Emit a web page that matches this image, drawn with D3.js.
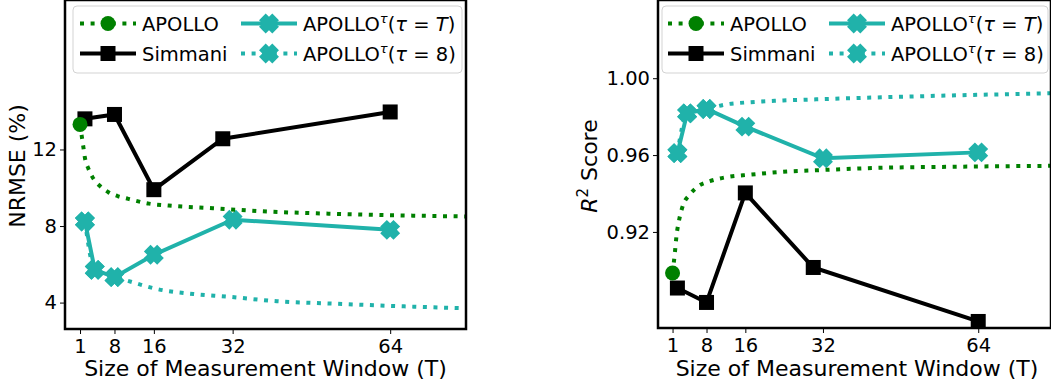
<!DOCTYPE html>
<html>
<head>
<meta charset="utf-8">
<script src="https://cdn.jsdelivr.net/npm/d3@7"></script>
<style>
  body { margin: 0; background: white; }
  svg { display: block; font-family: "DejaVu Sans", sans-serif; }
</style>
</head>
<body>
<svg id="chart" width="1051" height="383"></svg>
<script>
// Tick labels
const xTicks = [1, 8, 16, 32, 64];
const nrmseTicks = [4, 8, 12];
const r2Ticks = [0.92, 0.96, 1.00];

// Left panel: NRMSE (%)
const simmaniT = [2, 8, 16, 30, 64];
const simmaniNrmse = [13.6, 13.83, 9.9, 12.56, 13.96];
const tauT = [2, 4, 8, 16, 32, 64];
const tauNrmse = [8.24, 5.71, 5.33, 6.5, 8.33, 7.8];
const apolloT = [1, 1.35, 1.7, 2, 2.7, 3.5, 5.1, 6.75, 8.8, 10.8, 15, 19, 28, 38, 51, 65, 79.5];
const apolloNrmse = [13.31, 12.7, 12.09, 11.56, 11.0, 10.57, 10.08, 9.77, 9.55, 9.42, 9.17, 9.07, 8.93, 8.77, 8.65, 8.56, 8.5];
const tau8T = [2, 4, 8, 10.5, 16.6, 24, 31, 41, 51, 65, 79.5];
const tau8Nrmse = [8.24, 5.71, 5.33, 5.15, 4.71, 4.45, 4.31, 4.07, 3.96, 3.82, 3.70];

// Right panel: R^2 score
const simmaniR2 = [0.8908, 0.8833, 0.9403, 0.9015, 0.8734];
const tauR2 = [0.961, 0.9817, 0.984, 0.9748, 0.9583, 0.9614];
const apolloTR = [1, 1.47, 1.8, 2.37, 3.2, 4.57, 6.3, 8.7, 12.1, 17, 23.8, 30.7, 44.4, 58.2, 79.5];
const apolloR2 = [0.8986, 0.909, 0.9177, 0.9264, 0.9342, 0.9395, 0.9438, 0.9464, 0.9485, 0.9498, 0.9513, 0.9521, 0.9534, 0.9539, 0.9544];
const tau8TR = [2, 4, 8, 12.1, 17, 23.8, 30.7, 44.4, 58.2, 79.5];
const tau8R2 = [0.961, 0.9817, 0.984, 0.9864, 0.9875, 0.9884, 0.9890, 0.9901, 0.9910, 0.9922];

const GREEN = "#008000", TEAL = "#20b2aa", BLACK = "#000000";

const svg = d3.select("#chart");

// filled "X" marker (plus rotated 45 degrees)
function xMarker(u) {
    const pts = [[-1,-2],[-1,-1],[-2,-1],[-2,1],[-1,1],[-1,2],[1,2],[1,1],[2,1],[2,-1],[1,-1],[1,-2]];
    const c = Math.SQRT1_2;
    return "M" + pts.map(([a, b]) => [(a - b) * c * u, (a + b) * c * u].join(",")).join("L") + "Z";
}
const X_PATH = xMarker(4.7);

function drawMarker(g, kind, color, cx, cy) {
    if (kind === "circle") {
        g.append("circle").attr("cx", cx).attr("cy", cy).attr("r", 7.5).attr("fill", color);
    } else if (kind === "square") {
        g.append("rect").attr("x", cx - 7.5).attr("y", cy - 7.5).attr("width", 15).attr("height", 15).attr("fill", color);
    } else {
        g.append("path").attr("d", X_PATH).attr("transform", `translate(${cx},${cy})`).attr("fill", color);
    }
}

function panel(opts) {
    const x = d3.scaleLinear().domain(opts.xDomain).range(opts.xRange);
    const y = d3.scaleLinear().domain(opts.yDomain).range(opts.yRange);
    const g = svg.append("g");

    const clipId = "clip" + opts.id;
    svg.append("clipPath").attr("id", clipId)
        .append("rect")
        .attr("x", opts.xRange[0]).attr("y", opts.yRange[1])
        .attr("width", opts.xRange[1] - opts.xRange[0])
        .attr("height", opts.yRange[0] - opts.yRange[1]);

    const plot = g.append("g").attr("clip-path", `url(#${clipId})`);

    const line = d3.line().x(d => x(d[0])).y(d => y(d[1]));
    const smooth = d3.line().x(d => x(d[0])).y(d => y(d[1])).curve(d3.curveMonotoneX);

    // APOLLO tau=8 (dotted teal)
    const t8 = opts.tau8T.map((t, i) => [t, opts.tau8V[i]]);
    plot.append("path").attr("d", smooth(t8)).attr("fill", "none")
        .attr("stroke", TEAL).attr("stroke-width", 4).attr("stroke-dasharray", "4,6.6");
    t8.slice(0, 3).forEach(d => drawMarker(plot, "x", TEAL, x(d[0]), y(d[1])));

    // APOLLO tau=T (solid teal)
    const tt = opts.tauT.map((t, i) => [t, opts.tauV[i]]);
    plot.append("path").attr("d", line(tt)).attr("fill", "none")
        .attr("stroke", TEAL).attr("stroke-width", 4);
    tt.forEach(d => drawMarker(plot, "x", TEAL, x(d[0]), y(d[1])));

    // Simmani
    const sm = opts.simT.map((t, i) => [t, opts.simV[i]]);
    plot.append("path").attr("d", line(sm)).attr("fill", "none")
        .attr("stroke", BLACK).attr("stroke-width", 4);
    sm.forEach(d => drawMarker(plot, "square", BLACK, x(d[0]), y(d[1])));

    // APOLLO (dotted green)
    const ap = opts.apT.map((t, i) => [t, opts.apV[i]]);
    plot.append("path").attr("d", smooth(ap)).attr("fill", "none")
        .attr("stroke", GREEN).attr("stroke-width", 4).attr("stroke-dasharray", "4,6.6");
    drawMarker(plot, "circle", GREEN, x(ap[0][0]), y(ap[0][1]));

    // Axes
    const xAxis = g.append("g")
        .attr("transform", `translate(0,${opts.yRange[0]})`)
        .call(d3.axisBottom(x).tickValues(xTicks).tickSize(5).tickSizeOuter(0).tickPadding(5));
    const yAxis = g.append("g")
        .attr("transform", `translate(${opts.xRange[0]},0)`)
        .call(d3.axisLeft(y).tickValues(opts.yTicks).tickFormat(opts.yFormat).tickSize(5).tickSizeOuter(0).tickPadding(3));
    [xAxis, yAxis].forEach(a => {
        a.select(".domain").remove();
        a.selectAll("text").attr("font-size", 19.5).attr("font-family", "DejaVu Sans").attr("fill", "#000");
        a.selectAll("line").attr("stroke", "#000").attr("stroke-width", 1);
    });

    // Frame
    g.append("rect")
        .attr("x", opts.xRange[0]).attr("y", opts.yRange[1])
        .attr("width", opts.xRange[1] - opts.xRange[0])
        .attr("height", opts.yRange[0] - opts.yRange[1])
        .attr("fill", "none").attr("stroke", "#000").attr("stroke-width", 2.5);

    // x label
    g.append("text")
        .attr("x", (opts.xLabelCenter)).attr("y", 376)
        .attr("text-anchor", "middle").attr("font-size", 22)
        .text("Size of Measurement Window (T)");

    // y label
    const yl = g.append("text")
        .attr("transform", `translate(${opts.yLabelX},166) rotate(-90)`)
        .attr("text-anchor", "middle").attr("font-size", 22);
    opts.yLabel(yl);

    // Legend
    const L = opts.legend;
    const lg = g.append("g");
    lg.append("rect")
        .attr("x", L.x0).attr("y", 6).attr("width", L.x1 - L.x0).attr("height", 67)
        .attr("rx", 4).attr("fill", "white").attr("fill-opacity", 0.8)
        .attr("stroke", "#d3d3d3").attr("stroke-width", 1);

    const entries = [
        { col: 0, row: 0, color: GREEN, dash: true, marker: "circle", label: "APOLLO" },
        { col: 0, row: 1, color: BLACK, dash: false, marker: "square", label: "Simmani" },
        { col: 1, row: 0, color: TEAL, dash: false, marker: "x", tau: "T" },
        { col: 1, row: 1, color: TEAL, dash: true, marker: "x", tau: "8" }
    ];
    entries.forEach(e => {
        const hx = L.handles[e.col];
        const cy = e.row === 0 ? 23.5 : 53.5;
        lg.append("line")
            .attr("x1", hx).attr("x2", hx + 56).attr("y1", cy).attr("y2", cy)
            .attr("stroke", e.color).attr("stroke-width", 4)
            .attr("stroke-dasharray", e.dash ? "4,6.6" : null);
        drawMarker(lg, e.marker, e.color, hx + 28, cy);
        const t = lg.append("text")
            .attr("x", hx + 62).attr("y", cy + 7).attr("font-size", 19.5);
        if (e.label) {
            t.text(e.label);
        } else {
            t.append("tspan").text("APOLLO");
            t.append("tspan").attr("dy", -8).attr("font-size", 13).attr("font-style", "italic").text("τ");
            t.append("tspan").attr("dy", 8).text("(");
            t.append("tspan").attr("font-style", "italic").text("τ");
            t.append("tspan").text(" = ");
            t.append("tspan").attr("font-style", e.tau === "T" ? "italic" : "normal").text(e.tau);
            t.append("tspan").text(")");
        }
    });
}

panel({
    id: "L",
    xDomain: [-2.05, 79.4], xRange: [65, 466],
    yDomain: [2.62, 19.81], yRange: [329, 0],
    yTicks: nrmseTicks, yFormat: d3.format("d"),
    simT: simmaniT, simV: simmaniNrmse,
    tauT: tauT, tauV: tauNrmse,
    apT: apolloT, apV: apolloNrmse,
    tau8T: tau8T, tau8V: tau8Nrmse,
    xLabelCenter: 265.5,
    yLabelX: 25,
    yLabel: t => t.text("NRMSE (%)"),
    legend: { x0: 73, x1: 462, handles: [80, 241] }
});

panel({
    id: "R",
    xDomain: [-2, 79], xRange: [658, 1051],
    yDomain: [0.87, 1.0407], yRange: [328, 0],
    yTicks: r2Ticks, yFormat: d3.format(".2f"),
    simT: simmaniT, simV: simmaniR2,
    tauT: tauT, tauV: tauR2,
    apT: apolloTR, apV: apolloR2,
    tau8T: tau8TR, tau8V: tau8R2,
    xLabelCenter: 857,
    yLabelX: 597,
    yLabel: t => {
        t.append("tspan").attr("font-style", "italic").text("R");
        t.append("tspan").attr("dy", -9).attr("font-size", 15).text("2");
        t.append("tspan").attr("dy", 9).text(" Score");
    },
    legend: { x0: 662, x1: 1048, handles: [668, 829] }
});
</script>
</body>
</html>
